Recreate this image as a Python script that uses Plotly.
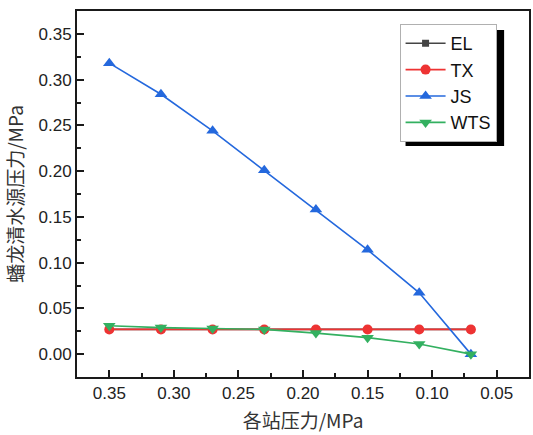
import plotly.graph_objects as go

x_vals = [0.35, 0.31, 0.27, 0.23, 0.19, 0.15, 0.11, 0.07]
el = [0.027, 0.027, 0.027, 0.027, 0.027, 0.027, 0.027, 0.027]
tx = [0.027, 0.027, 0.027, 0.027, 0.027, 0.027, 0.027, 0.027]
js = [0.318, 0.284, 0.244, 0.201, 0.158, 0.114, 0.067, 0.0]
wts = [0.031, 0.029, 0.028, 0.027, 0.023, 0.018, 0.011, 0.0]

x_ticks = [0.35, 0.30, 0.25, 0.20, 0.15, 0.10, 0.05]
x_labels = ["0.35", "0.30", "0.25", "0.20", "0.15", "0.10", "0.05"]
x_minor = [0.325, 0.275, 0.225, 0.175, 0.125, 0.075]
y_ticks = [0.0, 0.05, 0.10, 0.15, 0.20, 0.25, 0.30, 0.35]
y_labels = ["0.00", "0.05", "0.10", "0.15", "0.20", "0.25", "0.30", "0.35"]
y_minor = [0.025, 0.075, 0.125, 0.175, 0.225, 0.275, 0.325]

series = [
    ("EL", el, "#444444", "square", 7),
    ("TX", tx, "#ee3333", "circle", 10),
    ("JS", js, "#2468dd", "triangle-up", 11),
    ("WTS", wts, "#33b060", "triangle-down", 11),
]

fig = go.Figure()
for name, vals, col, sym, sz in series:
    fig.add_trace(go.Scatter(
        x=x_vals, y=vals, name=name, mode="lines+markers",
        line=dict(color=col, width=1.6),
        marker=dict(symbol=sym, size=sz, color=col),
    ))

W, H = 533, 435
l, r, t, b = 77, 2, 11, 58
pw, ph = W - l - r, H - t - b

def px_x(p):
    return (p - l) / pw

def px_y(p):
    return (H - b - p) / ph

leg_left, leg_top = 401, 24
leg_w, leg_h = 99, 116
# legend shadow
fig.add_shape(type="rect", xref="paper", yref="paper",
              x0=px_x(leg_left + 6), x1=px_x(leg_left + leg_w + 6),
              y0=px_y(leg_top + leg_h + 6), y1=px_y(leg_top + 6),
              fillcolor="black", line=dict(width=0), layer="above")

axis_col = "#1a1a1a"
fig.update_layout(
    width=W, height=H,
    margin=dict(l=l, r=r, t=t, b=b),
    paper_bgcolor="white", plot_bgcolor="white",
    font=dict(family="Liberation Sans, Arial, sans-serif", color="#222", size=17),
    showlegend=True,
    legend=dict(
        x=px_x(leg_left), y=px_y(leg_top), xanchor="left", yanchor="top",
        bgcolor="white", bordercolor="#b0b0b0", borderwidth=1,
        font=dict(size=18, color="#111"),
        tracegroupgap=0, itemwidth=40,
    ),
    xaxis=dict(
        range=[0.375, 0.025],
        tickmode="array", tickvals=x_ticks, ticktext=x_labels,
        showgrid=False, zeroline=False,
        showline=True, linecolor=axis_col, linewidth=1.8, mirror=True,
        ticks="inside", ticklen=7, tickwidth=1.5, tickcolor=axis_col,
        minor=dict(tickvals=x_minor, ticks="inside", ticklen=4,
                   tickwidth=1.5, tickcolor=axis_col),
        title=dict(text="各站压力/MPa", standoff=12,
                   font=dict(family="Noto Sans CJK SC, Liberation Sans, sans-serif", size=19, color="#333")),
    ),
    yaxis=dict(
        range=[-0.025, 0.375],
        tickmode="array", tickvals=y_ticks, ticktext=y_labels,
        showgrid=False, zeroline=False,
        showline=True, linecolor=axis_col, linewidth=1.8, mirror=True,
        ticks="inside", ticklen=7, tickwidth=1.5, tickcolor=axis_col,
        minor=dict(tickvals=y_minor, ticks="inside", ticklen=4,
                   tickwidth=1.5, tickcolor=axis_col),
        title=dict(text="蟠龙清水源压力/MPa", standoff=10,
                   font=dict(family="Noto Sans CJK SC, Liberation Sans, sans-serif", size=19, color="#333")),
    ),
)

fig.write_html("out.html")
